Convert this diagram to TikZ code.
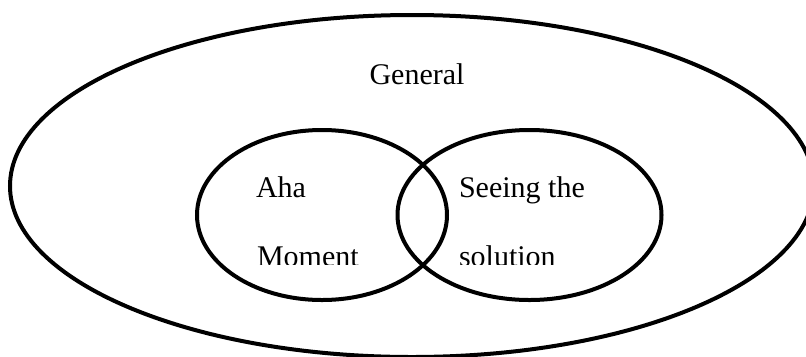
\documentclass[tikz,border=0pt]{standalone}
\usepackage{fontspec}
\setmainfont{Liberation Serif}
\usetikzlibrary{shapes.geometric}
\begin{document}
\begin{tikzpicture}[x=1bp,y=-1bp,
  ring/.style={ellipse,draw=black,line width=4bp,inner sep=0pt,outer sep=0pt},
  lbl/.style={inner sep=0pt,outer sep=0pt,font=\fontsize{30bp}{36bp}\selectfont}]
\useasboundingbox (0,0) rectangle (806,356);
\clip (0,0) rectangle (806,356);
\node[ring,minimum width=804bp,minimum height=342bp] (general) at (412,186) {};
\node[ring,minimum width=250bp,minimum height=170bp] (aha) at (322,215) {};
\node[ring,minimum width=264bp,minimum height=170bp] (seeing) at (529.5,215) {};
\node[lbl,anchor=base] (gtext) at (417,84) {General};
\begin{scope}
\clip (240,150) rectangle (620,264);
\node[lbl,anchor=base west] (aha1) at (256,197) {Aha};
\node[lbl,anchor=base west] (aha2) at (257,266) {Moment};
\node[lbl,anchor=base west] (see1) at (459,197) {Seeing the};
\node[lbl,anchor=base west] (see2) at (459,266) {solution};
\end{scope}
\end{tikzpicture}
\end{document}
